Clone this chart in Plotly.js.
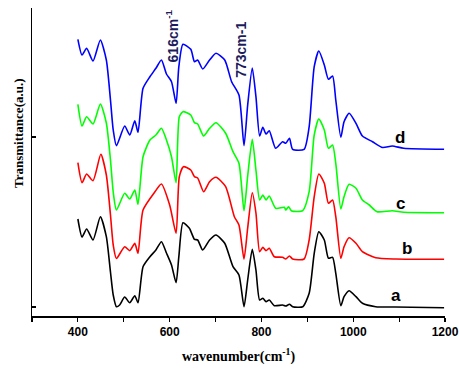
<!DOCTYPE html>
<html>
<head>
<meta charset="utf-8">
<script src="https://cdn.plot.ly/plotly-3.0.1.min.js"></script>
<style>html,body{margin:0;padding:0;background:#fff;}#chart{width:459px;height:378px;}</style>
</head>
<body>
<div id="chart"></div>
<script>
// Sample a
var wA = [400,409,419,433,449,462,471,477,484,491,502,513,524,531,542,557,570,582,593,604,614,620,629,643,654,661,672,687,701,720,738,751,762,770,780,788,796,803,810,817,828,846,853,861,868,890,904,915,925,937,946,955,962,973,980,991,1006,1020,1049,1092,1198];
var yA = [97,79,87,76,99.3,79.3,44,21,9.3,11,19,13.3,20.3,13.3,49.3,59.3,66,74.3,63,51,33.3,59.3,93.3,87.7,76.7,76,66,76,81,72.7,49.3,41,9.3,36,66.7,46,16,17.7,14.3,16,10.3,11,10,11.7,9.3,9.3,22.7,62.7,84.3,76,57.7,58.7,42.7,10.3,19.3,25.3,19.3,12.7,9.3,9,8.3];
// Sample b
var wB = [400,409,419,433,450,462,471,477,484,502,513,524,531,542,568,582,600,614,621,630,646,654,661,674,687,701,722,741,751,762,770,780,788,796,803,810,817,828,846,853,861,868,893,904,915,925,937,946,955,962,973,980,991,1006,1020,1049,1092,1198];
var yB = [153.3,133.3,142,135.3,161.7,141,101,71,57.5,69.3,65.3,72.7,62.7,106,124.3,132,111,82.7,139.3,149.3,146,139.3,138,124.3,134.3,138.7,129.3,99.3,91,57,88,123.3,103,64.3,68.7,65.3,67.7,59.3,58.7,57,60,57,57,76,119.3,142,132.7,112.7,116,99.3,57.7,69.3,78.3,72.7,64.3,58.3,57,56.7];
// Sample c
var wC = [400,409,419,433,449,462,471,477,484,502,513,524,531,542,557,570,582,593,604,614,621,629,646,654,661,674,687,701,722,738,751,762,770,780,788,796,803,810,817,831,850,853,859,866,890,904,915,925,937,946,955,962,973,980,991,1006,1020,1035,1052,1085,1110,1198];
var yC = [211.7,190,199.3,192,212,193,156,124,106,122.7,117,126,111.7,159.3,176,181,187.7,176,159.3,133.3,199.3,204.3,201,193.3,192,180,187.7,193.3,182.7,164.3,152.7,105.3,140,176.7,146,116,121,116,120,107.7,108.7,106,109.3,105,105.3,124.3,181,197,186,167.7,171,152.7,107,119.3,131.7,127.7,116,111,104.3,105.3,103.7,103.3];
// Sample d
var wD = [400,409,419,433,449,462,471,477,484,502,513,524,531,542,557,570,582,593,604,614,620,629,646,654,661,672,687,701,720,735,751,762,770,780,788,796,803,810,817,831,846,853,861,868,893,904,915,925,937,946,955,962,973,980,991,1006,1020,1042,1064,1085,1110,1198];
var yD = [276.7,261,267.7,255,276,256,216,186,170.3,190,181,195.3,183.7,227.7,239.3,247.7,256,242,234.3,212.7,249.3,271.7,266.7,254.3,256,247,256,262.7,256,234.3,221,170.3,211,248,219.3,180,188.7,182,185.3,167.7,174.3,172.7,177.7,166.7,166.7,189.3,249.3,265,251,236.7,240,216,178.7,194.3,202.7,192.7,180,174.3,168.5,170,167.7,166.7];

var seriesNames = ['a','b','c','d'];
var colors = ['#000000','#ff0000','#00ff00','#0000ff'];
var xs = [wA,wB,wC,wD];
var ys = [yA,yB,yC,yD];
var labelX = [1093,1117,1104,1102];
var labelY = [21,68,113,179];

var traces = xs.map(function(x,i){
  return {x:x, y:ys[i], type:'scatter', mode:'lines', name:seriesNames[i],
    line:{color:colors[i], width:1.6, shape:'spline', smoothing:0.6}, hoverinfo:'skip'};
});

var annotations = seriesNames.map(function(n,i){
  return {x:labelX[i], y:labelY[i], xref:'x', yref:'y', text:n, showarrow:false,
    font:{family:'Arial, Liberation Sans, sans-serif', size:17, color:'#000', weight:'bold'}};
});
annotations.push({x:606, y:280, xref:'x', yref:'y', text:'616cm<sup>-1</sup>', textangle:-90, showarrow:false,
  font:{family:'Arial, Liberation Sans, sans-serif', size:14, color:'#1c1c5c', weight:'bold'}});
annotations.push({x:755, y:266, xref:'x', yref:'y', text:'773cm-1', textangle:-90, showarrow:false,
  font:{family:'Arial, Liberation Sans, sans-serif', size:14, color:'#1c1c5c', weight:'bold'}});
annotations.push({x:-0.034, y:0.594, xref:'paper', yref:'paper', text:'Transmittance(a.u.)', textangle:-90, showarrow:false,
  xanchor:'center', yanchor:'middle',
  font:{family:'Times New Roman, Liberation Serif, serif', size:13, color:'#000', weight:'bold'}});
annotations.push({x:0.5, y:-0.127, xref:'paper', yref:'paper', text:'wavenumber(cm<sup>-1</sup>)', showarrow:false,
  xanchor:'center', yanchor:'middle',
  font:{family:'Times New Roman, Liberation Serif, serif', size:14, color:'#000', weight:'bold'}});

var layout = {
  width:459, height:378,
  margin:{l:32, r:14, t:8, b:62},
  paper_bgcolor:'#fff', plot_bgcolor:'#fff',
  showlegend:false,
  xaxis:{range:[300,1200], showgrid:false, zeroline:false, showline:true, linecolor:'#000', linewidth:1.5,
    ticks:'outside', ticklen:4, tickwidth:1.2, tickcolor:'#000', tick0:0, dtick:200,
    minor:{dtick:100, ticks:'outside', ticklen:4, tickwidth:1.2, tickcolor:'#000', showgrid:false},
    tickfont:{family:'Arial, Liberation Sans, sans-serif', size:12, color:'#000', weight:'bold'}},
  yaxis:{range:[0,308], showgrid:false, zeroline:false, showline:true, linecolor:'#000', linewidth:1.5,
    ticks:'inside', ticklen:4, tickwidth:1.2, tickcolor:'#000', tickvals:[9,179], showticklabels:false},
  annotations:annotations
};

Plotly.newPlot('chart', traces, layout, {displayModeBar:false, staticPlot:true});
</script>
</body>
</html>
